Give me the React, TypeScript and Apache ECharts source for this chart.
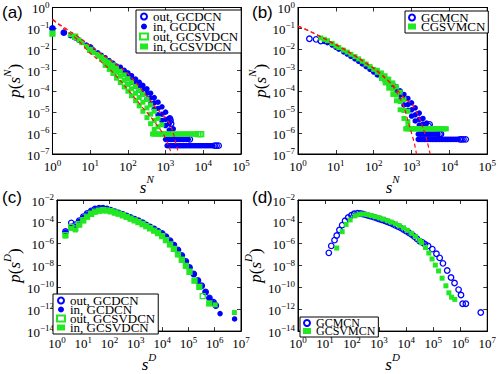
import React, { useEffect, useRef } from 'react';
import * as echarts from 'echarts';

type P = [number, number];

// ---------------- Panel (a) ----------------
const aBlueOutPts: P[] = [[1, 0.1], [2, 0.063], [10, 0.0125], [100, 6e-4], [1300, 5e-6], [1350, 4e-6], [1400, 2.8e-6]];
const aBlueInCenter: P[] = [[1, 0.1], [2, 0.063], [3, 0.045], [4, 0.035], [5, 0.028], [6, 0.022], [8, 0.016], [10, 0.0125], [12, 0.0095], [16, 0.0068], [20, 0.0052], [25, 0.004], [32, 0.0029], [40, 0.0022], [50, 0.0016], [63, 0.0011], [80, 8e-4], [100, 5.8e-4], [125, 4e-4], [160, 2.6e-4], [200, 1.8e-4], [250, 1.25e-4], [320, 8e-5], [400, 4.8e-5], [500, 2.8e-5], [630, 1.5e-5], [800, 8e-6], [1000, 4.5e-6], [1250, 2.8e-6], [1600, 1.6e-6]];
const aBlueInUpper: P[] = [[63, 0.0014], [80, 0.001], [100, 7.5e-4], [125, 5.5e-4], [160, 3.8e-4], [200, 2.7e-4], [250, 1.9e-4], [320, 1.3e-4], [400, 8e-5], [500, 5e-5], [630, 3e-5], [800, 1.8e-5], [1000, 1e-5], [1250, 5e-6]];
const aBlueInLower: P[] = [[100, 4e-4], [125, 2.7e-4], [160, 1.7e-4], [200, 1.1e-4], [250, 7e-5], [320, 4.2e-5], [400, 2.5e-5], [500, 1.4e-5], [630, 7.5e-6], [800, 4e-6], [1000, 2.3e-6], [1250, 1.4e-6]];
const aBlueLevelHi = 5e-7;
const aBlueLevelLo = 2.5e-7;
const aBlueInRunHi = [1000, 1100, 1200, 1320, 1450, 1600, 1750, 1900, 2100, 2300, 2500, 2750, 3000, 3300, 3600, 4000];
const aBlueOutRunHi = [4400];
const aBlueInRunLo = [1100, 1200, 1320, 1450, 1600, 1750, 1900, 2100, 2300, 2500, 2750, 3000, 3300, 3600, 4000, 4400, 4800, 5300, 5800, 6300, 7000, 7600, 8300, 9100, 10000, 11000, 12000, 13200, 14500, 16000, 17500];
const aBlueOutRunLo = [20000, 22500, 25500];

const aGreenOutPts: P[] = [[1, 0.056], [4, 0.04], [10, 0.0095], [30, 0.002], [100, 2.5e-4]];
const aGreenInCenter: P[] = [[1, 0.056], [3, 0.05], [4, 0.04], [5, 0.028], [6, 0.021], [8, 0.014], [10, 0.0095], [12, 0.0071], [16, 0.0048], [20, 0.0034], [25, 0.0024], [32, 0.0017], [40, 0.0012], [50, 8e-4], [63, 5.2e-4], [80, 3.3e-4], [100, 2.1e-4], [125, 1.3e-4], [160, 8e-5], [200, 5e-5], [250, 3e-5], [320, 1.6e-5], [400, 8e-6], [500, 4e-6], [630, 2e-6]];
const aGreenInUpper: P[] = [[16, 0.0058], [20, 0.0044], [25, 0.0033], [32, 0.0025], [40, 0.0018], [50, 0.0013], [63, 9e-4], [80, 6e-4], [100, 4e-4], [125, 2.7e-4], [160, 1.7e-4], [200, 1.1e-4], [250, 7e-5], [320, 4e-5], [400, 2.2e-5], [500, 1.1e-5], [630, 5e-6], [800, 2.5e-6]];
const aGreenInLower: P[] = [[25, 0.0017], [32, 0.0011], [40, 7e-4], [50, 4.2e-4], [63, 2.6e-4], [80, 1.6e-4], [100, 1e-4], [125, 6e-5], [160, 3.5e-5], [200, 2e-5], [250, 1.1e-5], [320, 5.5e-6], [400, 2.8e-6], [500, 1.5e-6]];
const aGreenLevel = 9e-7;
const aGreenInRun = [450, 500, 550, 600, 660, 720, 800, 870, 950, 1050, 1150, 1260, 1380, 1500, 1650, 1800, 2000, 2200, 2400, 2600, 2900, 3200, 3500, 3800, 4200, 4600, 5000, 5500, 6000, 6600];
const aGreenOutRun = [7300, 8000, 8800];

const aFitUpper: P[] = [[1, 0.25], [1.5, 0.16], [2, 0.115], [3, 0.07], [5, 0.038], [10, 0.015], [20, 0.006], [40, 0.0025], [70, 0.0012], [100, 7e-4], [160, 2.6e-4], [250, 1e-4], [400, 3.5e-5], [540, 1.7e-5], [800, 8e-6], [1000, 5e-6], [1260, 3e-6], [1600, 1e-6], [2000, 2e-7], [2450, 8e-8]];
const aFitLower: P[] = [[1, 0.28], [1.5, 0.15], [2, 0.1], [3, 0.055], [5, 0.025], [10, 0.0065], [22, 0.0021], [40, 8e-4], [75, 2.2e-4], [150, 5e-5], [250, 1.6e-5], [400, 6e-6], [540, 3e-6], [900, 8e-7], [1230, 2.2e-7], [1510, 8e-8]];

// ---------------- Panel (b) ----------------
const bBlueOpenPts: P[] = [[2, 0.032], [3, 0.03], [4, 0.025], [2800, 2.2e-6], [3000, 2.6e-6]];
const bBlueCenter: P[] = [[5, 0.024], [6, 0.021], [8, 0.016], [10, 0.0125], [12, 0.0102], [16, 0.0076], [20, 0.006], [25, 0.0046], [32, 0.0035], [40, 0.0027], [50, 0.002], [63, 0.0015], [80, 0.0011], [100, 8.2e-4], [125, 6e-4], [160, 4.4e-4], [200, 3.2e-4], [250, 2.3e-4], [320, 1.55e-4], [400, 1.05e-4], [500, 6.5e-5], [630, 4e-5], [800, 2.3e-5], [1000, 1.3e-5], [1250, 7.5e-6], [1600, 4.5e-6], [2000, 2.7e-6], [2500, 1.8e-6]];
const bBlueUpper: P[] = [[320, 2.2e-4], [400, 1.6e-4], [500, 1.05e-4], [630, 7e-5], [800, 4.5e-5], [1000, 2.8e-5], [1250, 1.6e-5], [1600, 9e-6], [2000, 5e-6], [2500, 3e-6]];
const bBlueLower: P[] = [[500, 3.8e-5], [630, 2.2e-5], [800, 1.2e-5], [1000, 6.5e-6], [1250, 3.8e-6], [1600, 2.4e-6], [2000, 1.6e-6]];
const bBlueLevelHi = 9e-7;
const bBlueLevelLo = 5e-7;
const bBlueRunHi = [1500, 1650, 1800, 2000, 2200, 2400, 2650, 2900, 3200, 3500, 3850, 4200, 4600, 5000];
const bBlueOpenRunHi = [5500, 6000];
const bBlueRunLo = [1500, 1650, 1800, 2000, 2200, 2400, 2650, 2900, 3200, 3500, 3850, 4200, 4600, 5000, 5500, 6000, 6600, 7300, 8000, 8800, 9700, 10700, 11700, 12900, 14200, 15600, 17000];
const bBlueOpenRunLo = [19000, 21000, 23500, 27000];

const bGreenCenter: P[] = [[4, 0.035], [5, 0.03], [6, 0.026], [8, 0.019], [10, 0.0145], [12, 0.0122], [16, 0.0092], [20, 0.0074], [25, 0.0058], [32, 0.0045], [40, 0.0035], [50, 0.0027], [63, 0.002], [80, 0.0015], [100, 0.0011], [125, 8e-4], [160, 5.6e-4], [200, 3.8e-4], [250, 2.3e-4], [320, 1.25e-4], [400, 6.5e-5], [500, 3.2e-5], [630, 1.2e-5], [800, 3.5e-6]];
const bGreenUpper: P[] = [[125, 1e-3], [160, 7.5e-4], [200, 5.5e-4], [250, 3.8e-4], [320, 2.5e-4], [400, 1.6e-4], [500, 9e-5], [630, 4e-5], [800, 1.1e-5]];
const bGreenLower: P[] = [[160, 4e-4], [200, 2.5e-4], [250, 1.4e-4], [320, 7e-5], [400, 3.5e-5], [500, 1.3e-5], [630, 5e-6], [800, 2e-6]];
const bGreenLevel = 1.6e-6;
const bGreenRun = [700, 770, 840, 920, 1000, 1100, 1200, 1320, 1450, 1600, 1750, 1900, 2100, 2300, 2500, 2750, 3000, 3300, 3600, 4000, 4400, 4800, 5300, 5800, 6300, 7000, 7600, 8300];

const bFitSteep: P[] = [[1, 0.13], [2, 0.075], [3, 0.052], [5, 0.033], [10, 0.017], [20, 0.0085], [50, 0.003], [100, 0.0013], [200, 4.5e-4], [300, 2e-4], [400, 9e-5], [500, 4.5e-5], [630, 1.8e-5], [800, 4e-6], [1000, 1e-6], [1200, 3e-7], [1350, 1e-7], [1450, 5e-8]];
const bFitShallow: P[] = [[1, 0.13], [2, 0.075], [3, 0.052], [5, 0.032], [10, 0.016], [20, 0.008], [50, 0.0028], [100, 0.0012], [200, 4.2e-4], [300, 2.2e-4], [500, 8e-5], [700, 4e-5], [1000, 2.5e-5], [1500, 7e-6], [2000, 1.8e-6], [2500, 5e-7], [3100, 1e-7], [3400, 5e-8]];

// ---------------- Panel (c) ----------------
const cBlueOut: P[] = [[2.1, 1.3e-5], [3.5, 8e-5], [5, 5.5e-5], [7, 1.3e-4], [10, 3e-4], [14, 6e-4], [20, 1e-3], [28, 1.5e-3], [40, 1.8e-3], [56, 1.75e-3], [80, 1.5e-3], [110, 1.15e-3], [160, 8.5e-4], [220, 6.6e-4], [320, 4.7e-4], [450, 3.4e-4], [630, 2.5e-4], [900, 1.75e-4], [1260, 1.25e-4], [1800, 8.5e-5], [2500, 5.3e-5], [3500, 3.4e-5], [5000, 2.2e-5], [7000, 1.4e-5], [10000, 8.5e-6], [14000, 4.3e-6], [20000, 1.9e-6], [28000, 7.5e-7], [40000, 2.7e-7], [56000, 8.5e-8], [80000, 2.4e-8], [110000, 6.8e-9], [160000, 1.7e-9], [230000, 4.3e-10], [320000, 1.4e-10], [450000, 3.8e-11], [630000, 1.1e-11], [900000, 4.5e-12], [1100000, 2.2e-12]];
const cBlueIn: P[] = [[2.1, 1.1e-5], [3.5, 4e-5], [5, 4e-5], [7, 1.1e-4], [10, 2.5e-4], [14, 5e-4], [20, 9e-4], [28, 1.3e-3], [40, 1.6e-3], [56, 1.6e-3], [80, 1.35e-3], [110, 1.07e-3], [160, 8e-4], [220, 6.3e-4], [320, 4.5e-4], [450, 3.2e-4], [630, 2.4e-4], [900, 1.65e-4], [1260, 1.2e-4], [1800, 8e-5], [2500, 5e-5], [3500, 3.2e-5], [5000, 2.1e-5], [7000, 1.3e-5], [10000, 8e-6], [14000, 4e-6], [20000, 1.8e-6], [28000, 7e-7], [40000, 2.5e-7], [56000, 8e-8], [80000, 2.2e-8], [110000, 6.3e-9], [160000, 1.6e-9], [230000, 4e-10], [320000, 1.3e-10], [450000, 3.5e-11], [630000, 1e-11], [900000, 4e-12], [1100000, 2e-12], [1600000, 4e-13], [5700000, 1.3e-13]];
const cGreenOut: P[] = [[2.1, 6e-6], [3.5, 3.5e-5], [5, 2.5e-5], [7, 6e-5], [10, 1.4e-4], [14, 3e-4], [20, 5.5e-4], [28, 8.5e-4], [40, 1.05e-3], [56, 1.15e-3], [80, 1.1e-3], [110, 9.3e-4], [160, 7.2e-4], [220, 5.6e-4], [320, 4e-4], [450, 2.8e-4], [630, 2e-4], [900, 1.35e-4], [1260, 9.3e-5], [1800, 6.2e-5], [2500, 4e-5], [3500, 2.6e-5], [5000, 1.6e-5], [7000, 9.5e-6], [10000, 5e-6], [14000, 2.1e-6], [20000, 8.5e-7], [28000, 3.4e-7], [40000, 1.05e-7], [56000, 3.4e-8], [80000, 9.5e-9], [110000, 2.7e-9], [170000, 4.2e-10], [260000, 1.1e-10], [350000, 1.6e-11], [620000, 3.4e-12]];
const cGreenIn: P[] = [[2.1, 5e-6], [3.5, 2.5e-5], [5, 1.8e-5], [7, 5e-5], [10, 1.25e-4], [14, 2.8e-4], [20, 5e-4], [28, 8e-4], [40, 1e-3], [56, 1.1e-3], [80, 1.05e-3], [110, 9e-4], [160, 7e-4], [220, 5.4e-4], [320, 3.8e-4], [450, 2.7e-4], [630, 1.9e-4], [900, 1.3e-4], [1260, 9e-5], [1800, 6e-5], [2500, 3.8e-5], [3500, 2.5e-5], [5000, 1.5e-5], [7000, 9e-6], [10000, 5e-6], [14000, 2e-6], [20000, 8e-7], [28000, 3.2e-7], [40000, 1e-7], [56000, 3.2e-8], [80000, 9e-9], [110000, 2.5e-9], [170000, 4e-10], [260000, 1e-10], [620000, 3.2e-12], [1050000, 2.5e-12], [5600000, 5e-13]];

// ---------------- Panel (d) ----------------
const dBlue: P[] = [[13.8, 1.45e-7], [17, 6.3e-7], [22.4, 2.1e-6], [27, 5.6e-6], [34, 1.8e-5], [43, 5e-5], [55, 1.26e-4], [72, 2.5e-4], [95, 4e-4], [120, 5.5e-4], [160, 6.3e-4], [200, 5.8e-4], [250, 5.2e-4], [320, 4.3e-4], [400, 3.7e-4], [500, 3.2e-4], [630, 2.7e-4], [800, 2.2e-4], [1000, 1.8e-4], [1260, 1.5e-4], [1600, 1.25e-4], [2000, 1e-4], [2500, 8e-5], [3200, 6.3e-5], [4000, 4.8e-5], [5000, 3.7e-5], [6300, 2.8e-5], [8000, 2e-5], [10000, 1.4e-5], [12600, 1e-5], [16000, 7e-6], [20000, 4.5e-6], [25000, 2.8e-6], [32000, 1.7e-6], [40000, 1.3e-6], [50000, 9e-7], [65000, 6.3e-7], [93000, 3.2e-7], [132000, 1.2e-7], [174000, 5e-8], [230000, 1.6e-8], [330000, 3.5e-9], [457000, 8e-10], [617000, 2.5e-10], [870000, 6.3e-11], [1070000, 2e-11], [1230000, 3.2e-12], [1620000, 3.2e-12], [5750000, 5e-13]];
const dGreen: P[] = [[27, 4e-7], [43, 1.26e-5], [60, 5.9e-5], [85, 1.5e-4], [129, 3.5e-4], [182, 5e-4], [250, 5.2e-4], [355, 4.7e-4], [500, 3.8e-4], [700, 3e-4], [1000, 2.4e-4], [1400, 1.8e-4], [2000, 1.3e-4], [2800, 9.5e-5], [4000, 6.6e-5], [5600, 4.5e-5], [8000, 2.8e-5], [11000, 1.7e-5], [16000, 8.9e-6], [22000, 4.5e-6], [32000, 2e-6], [37000, 1.26e-6], [52000, 4.5e-7], [69000, 1.4e-7], [91000, 4e-8], [120000, 1.1e-8], [158000, 3.2e-9], [214000, 7e-10], [295000, 1.4e-10], [380000, 3.2e-11], [480000, 1.26e-11], [630000, 8e-12]];

// ---------------- styling ----------------
const SERIF = "'Liberation Serif', 'DejaVu Serif', serif";
const SANS = "'Liberation Sans', 'DejaVu Sans', sans-serif";
const BLUE = '#0000ff';
const GREEN = '#22e822';
const RED = '#ff1010';

const run = (xs: number[], level: number): P[] => xs.map((x) => [x, level] as P);

const expFmt = (hideOdd: boolean) => (v: number) => {
  const e = Math.round(Math.log10(v));
  if (hideOdd && Math.abs(e) % 2 === 1) return '';
  return `{b|10}{s|${e < 0 ? '\u2212' + -e : e}}`;
};
const tickRich = {
  b: { fontFamily: SERIF, fontSize: 13, color: '#000', verticalAlign: 'bottom', lineHeight: 15 },
  s: { fontFamily: SERIF, fontSize: 9, color: '#000', verticalAlign: 'top', lineHeight: 8 },
};
const nameRich = {
  i: { fontFamily: SERIF, fontStyle: 'italic', fontSize: 17, color: '#000', verticalAlign: 'bottom', lineHeight: 22 },
  n: { fontFamily: SERIF, fontSize: 17, color: '#000', verticalAlign: 'bottom', lineHeight: 22 },
  u: { fontFamily: SERIF, fontStyle: 'italic', fontSize: 11, color: '#000', verticalAlign: 'top', lineHeight: 11 },
};

const grids = [
  { left: 48, top: 7, width: 193, height: 147 },
  { left: 298, top: 7, width: 193, height: 147 },
  { left: 48, top: 200, width: 193, height: 138 },
  { left: 298, top: 200, width: 193, height: 138 },
];
const panelCfg = [
  { xmin: 1, xmax: 1e5, ymin: 1e-7, ymax: 1, yint: 1, letter: 'N' },
  { xmin: 1, xmax: 1e5, ymin: 1e-7, ymax: 1, yint: 1, letter: 'N' },
  { xmin: 1, xmax: 1e7, ymin: 1e-14, ymax: 1e-2, yint: 2, letter: 'D' },
  { xmin: 1, xmax: 1e7, ymin: 1e-14, ymax: 1e-2, yint: 2, letter: 'D' },
];

function buildAxes() {
  const xAxis: any[] = [];
  const yAxis: any[] = [];
  panelCfg.forEach((p, i) => {
    const common = {
      type: 'log', logBase: 10, gridIndex: i,
      axisLine: { show: true, lineStyle: { color: '#000', width: 1 } },
      axisTick: { show: true, inside: true, length: 4, lineStyle: { color: '#000', width: 0.8 } },
      splitLine: { show: false },
      minorTick: { show: false },
    };
    xAxis.push({
      ...common, min: p.xmin, max: p.xmax, interval: 1, position: 'bottom',
      axisLabel: { formatter: expFmt(false), rich: tickRich, margin: 4, fontFamily: SERIF, color: '#000' },
      name: `{i|s}{u|${p.letter}}`, nameLocation: 'middle', nameGap: 9,
      nameTextStyle: { rich: nameRich, fontFamily: SERIF, color: '#000' },
    });
    xAxis.push({ ...common, min: p.xmin, max: p.xmax, interval: 1, position: 'top', axisLabel: { show: false } });
    yAxis.push({
      ...common, min: p.ymin, max: p.ymax, interval: p.yint, position: 'left',
      axisLabel: { formatter: expFmt(p.yint === 2), rich: tickRich, margin: 3, fontFamily: SERIF, color: '#000' },
      name: `{i|p}{n|(}{i|s}{u|${p.letter}}{n|)}`, nameLocation: 'middle', nameRotate: 90, nameGap: 29,
      nameTextStyle: { rich: nameRich, fontFamily: SERIF, color: '#000' },
    });
    yAxis.push({ ...common, min: p.ymin, max: p.ymax, interval: p.yint, position: 'right', axisLabel: { show: false } });
  });
  return { xAxis, yAxis };
}

type Kind = 'oc' | 'fc' | 'os' | 'fs';
function sc(name: string, data: P[], g: number, kind: Kind, z = 2) {
  const circle = kind === 'oc' || kind === 'fc';
  const color = circle ? BLUE : GREEN;
  const open = kind === 'oc' || kind === 'os';
  return {
    type: 'scatter', name, data, xAxisIndex: 2 * g, yAxisIndex: 2 * g, z,
    symbol: circle ? 'circle' : 'rect',
    symbolSize: circle ? 5.5 : 5,
    silent: true,
    itemStyle: open
      ? { color: 'rgba(255,255,255,0)', borderColor: color, borderWidth: 1.3, opacity: 1 }
      : { color, borderWidth: 0, opacity: 1 },
  };
}
function fit(data: P[], g: number) {
  return {
    type: 'line', data, xAxisIndex: 2 * g, yAxisIndex: 2 * g, z: 5,
    symbol: 'none', showSymbol: false, smooth: 0.3, silent: true, clip: true,
    lineStyle: { color: RED, width: 1.2, type: [4, 3] },
  };
}

function legendCfg(left: number, top: number, data: string[], gap: number, fs: number) {
  return {
    orient: 'vertical', left, top, data, itemWidth: 8, itemHeight: 6, itemGap: gap, itemTextGap: 4,
    padding: [0, 3, 0, 3], borderColor: '#000', borderWidth: 1, backgroundColor: '#fff',
    selectedMode: false,
    textStyle: { fontFamily: SERIF, fontSize: fs, color: '#000' },
  };
}

export default function App() {
  const ref = useRef<HTMLDivElement>(null);
  useEffect(() => {
    document.body.style.margin = '0';
    const chart = echarts.init(ref.current!, null, { renderer: 'svg' });
    const { xAxis, yAxis } = buildAxes();
    const series: any[] = [
      // (a)
      sc('out, GCDCN', [...aBlueOutPts, ...run(aBlueOutRunHi, aBlueLevelHi), ...run(aBlueOutRunLo, aBlueLevelLo)], 0, 'oc'),
      sc('in, GCDCN', [...aBlueInCenter, ...aBlueInUpper, ...aBlueInLower, ...run(aBlueInRunHi, aBlueLevelHi), ...run(aBlueInRunLo, aBlueLevelLo)], 0, 'fc'),
      sc('out, GCSVDCN', [...aGreenOutPts, ...run(aGreenOutRun, aGreenLevel)], 0, 'os'),
      sc('in, GCSVDCN', [...aGreenInCenter, ...aGreenInUpper, ...aGreenInLower, ...run(aGreenInRun, aGreenLevel)], 0, 'fs'),
      fit(aFitUpper, 0),
      fit(aFitLower, 0),
      // (b)
      sc('GCMCN', [...bBlueOpenPts, ...run(bBlueOpenRunHi, bBlueLevelHi), ...run(bBlueOpenRunLo, bBlueLevelLo)], 1, 'oc'),
      sc('GCMCN', [...bBlueCenter, ...bBlueUpper, ...bBlueLower, ...run(bBlueRunHi, bBlueLevelHi), ...run(bBlueRunLo, bBlueLevelLo)], 1, 'fc'),
      sc('CGSVMCN', [...bGreenCenter, ...bGreenUpper, ...bGreenLower, ...run(bGreenRun, bGreenLevel)], 1, 'fs'),
      fit(bFitSteep, 1),
      fit(bFitShallow, 1),
      // (c)
      sc('out, GCDCN', cBlueOut, 2, 'oc'),
      sc('in, GCDCN', cBlueIn, 2, 'fc'),
      sc('out, GCSVDCN', cGreenOut, 2, 'os'),
      sc('in, GCSVDCN', cGreenIn, 2, 'fs'),
      // (d)
      sc('GCMCN', dBlue, 3, 'oc'),
      sc('GCSVMCN', dGreen, 3, 'fs'),
    ];
    const labels = [
      { t: '(a)', x: 2, y: 4 },
      { t: '(b)', x: 252, y: 4 },
      { t: '(c)', x: 2, y: 189 },
      { t: '(d)', x: 252, y: 189 },
    ];
    chart.setOption({
      animation: false,
      backgroundColor: '#fff',
      grid: grids.map((g) => ({ ...g, containLabel: false, show: true, borderColor: '#000', borderWidth: 1, backgroundColor: 'transparent' })),
      xAxis,
      yAxis,
      legend: [
        legendCfg(136, 10, ['out, GCDCN', 'in, GCDCN', 'out, GCSVDCN', 'in, GCSVDCN'], -3, 13),
        legendCfg(405, 11, ['GCMCN', 'CGSVMCN'], -4, 13),
        legendCfg(53, 294, ['out, GCDCN', 'in, GCDCN', 'out, GCSVDCN', 'in, GCSVDCN'], -4, 13),
        legendCfg(300, 317, ['GCMCN', 'GCSVMCN'], -4, 12),
      ],
      graphic: labels.map((l) => ({
        type: 'text', left: l.x, top: l.y, z: 10,
        style: { text: l.t, fontFamily: SANS, fontSize: 17, fill: '#000' },
      })),
      series,
    });
    return () => chart.dispose();
  }, []);
  return <div ref={ref} style={{ position: 'absolute', left: 0, top: 0, width: 499, height: 374 }} />;
}
